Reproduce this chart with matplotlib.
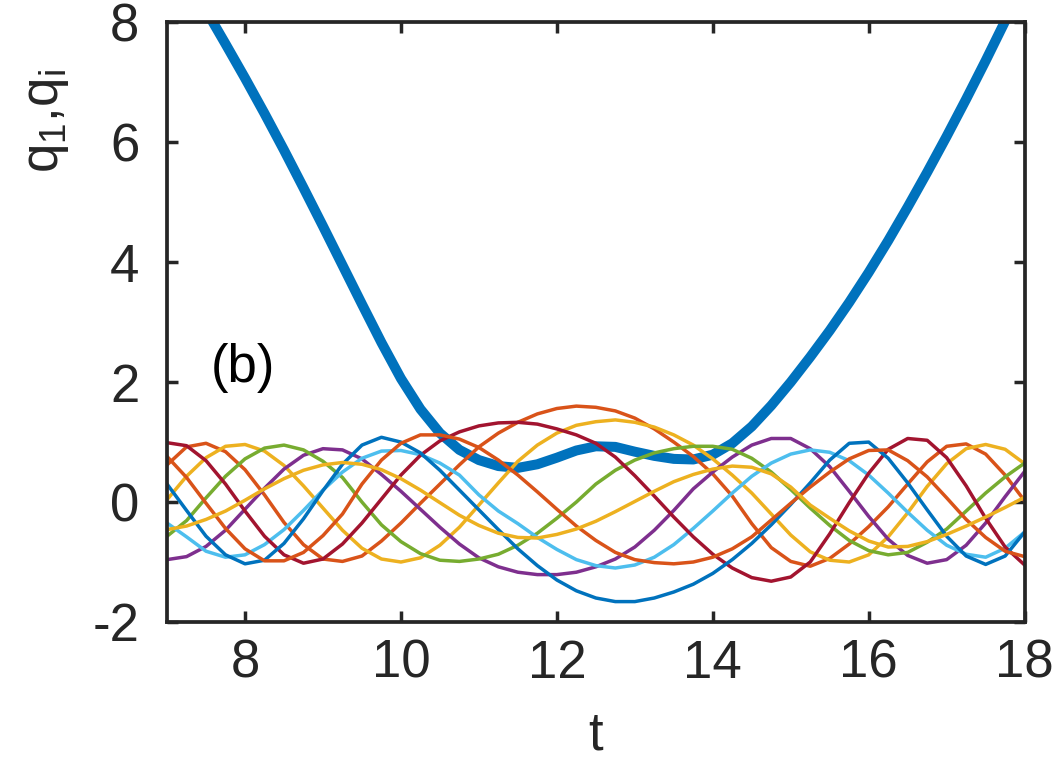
import numpy as np
import matplotlib
matplotlib.use('Agg')
import matplotlib.pyplot as plt

############################################################
# Data (t step 0.25 from 7 to 18)

t = np.arange(7.0, 18.001, 0.25)

q1 = [9.3, 8.75, 8.2, 7.64, 7.07, 6.48, 5.87, 5.24, 4.6, 3.95, 3.3, 2.66, 2.06, 1.55, 1.15,
      0.87, 0.7, 0.6, 0.57, 0.63, 0.74, 0.86, 0.93, 0.92, 0.84, 0.77, 0.72, 0.71, 0.79,
      0.98, 1.26, 1.61, 2.0, 2.42, 2.86, 3.33, 3.83, 4.36, 4.92, 5.5, 6.1, 6.72, 7.36,
      8.02, 8.7]

orange_a = [0.62, 0.92, 0.98, 0.84, 0.54, 0.12, -0.34, -0.71, -0.95, -0.99, -0.9, -0.65,
            -0.35, -0.02, 0.3, 0.62, 0.92, 1.15, 1.33, 1.47, 1.56, 1.6, 1.58, 1.52, 1.4,
            1.22, 1.0, 0.76, 0.47, 0.1, -0.36, -0.76, -0.99, -1.07, -0.94, -0.7, -0.41, -0.08,
            0.3, 0.67, 0.93, 0.97, 0.8, 0.45, 0.02]

yellow_a = [0.04, 0.43, 0.74, 0.93, 0.96, 0.85, 0.61, 0.27, -0.1, -0.47, -0.77, -0.95,
            -1.0, -0.93, -0.72, -0.42, -0.05, 0.32, 0.68, 0.95, 1.15, 1.28, 1.34, 1.37,
            1.33, 1.25, 1.12, 0.95, 0.72, 0.45, 0.15, -0.2, -0.55, -0.83, -0.97, -1.0,
            -0.88, -0.58, -0.18, 0.26, 0.64, 0.89, 0.96, 0.88, 0.64]

purple = [-0.96, -0.91, -0.74, -0.47, -0.12, 0.23, 0.55, 0.78, 0.89, 0.87, 0.72, 0.46,
          0.18, -0.12, -0.42, -0.7, -0.93, -1.08, -1.17, -1.21, -1.21, -1.17, -1.08, -0.95,
          -0.75, -0.47, -0.14, 0.22, 0.5, 0.75, 0.95, 1.06, 1.06, 0.89, 0.59, 0.18, -0.24,
          -0.62, -0.89, -1.02, -0.96, -0.72, -0.35, 0.09, 0.51]

green = [-0.57, -0.31, 0.07, 0.43, 0.72, 0.9, 0.95, 0.87, 0.68, 0.41, 0.0, -0.38, -0.66,
         -0.86, -0.97, -0.99, -0.95, -0.87, -0.72, -0.52, -0.27, 0.0, 0.3, 0.53, 0.7, 0.82,
         0.89, 0.93, 0.93, 0.88, 0.73, 0.5, 0.21, -0.1, -0.39, -0.64, -0.81, -0.88, -0.84,
         -0.67, -0.45, -0.15, 0.15, 0.42, 0.65]

light_blue = [-0.35, -0.58, -0.82, -0.92, -0.88, -0.71, -0.46, -0.14, 0.2, 0.5, 0.73, 0.85,
              0.86, 0.79, 0.65, 0.45, 0.12, -0.15, -0.36, -0.59, -0.79, -0.96, -1.06, -1.1,
              -1.05, -0.92, -0.71, -0.44, -0.15, 0.15, 0.43, 0.65, 0.8, 0.87, 0.83, 0.69,
              0.45, 0.15, -0.17, -0.47, -0.72, -0.87, -0.92, -0.77, -0.5]

red = [0.99, 0.94, 0.69, 0.30, -0.15, -0.57, -0.88, -1.02, -0.95, -0.70, -0.35, 0.05, 0.45,
       0.78, 1.02, 1.17, 1.27, 1.32, 1.33, 1.30, 1.22, 1.12, 0.98, 0.75, 0.44, 0.10, -0.25,
       -0.58, -0.87, -1.1, -1.26, -1.32, -1.25, -1.0, -0.53, -0.01, 0.48, 0.88, 1.06, 1.03,
       0.74, 0.27, -0.27, -0.75, -1.05]

blue = [0.3, -0.14, -0.57, -0.88, -1.03, -0.97, -0.69, -0.28, 0.19, 0.63, 0.95, 1.08, 1.0,
        0.82, 0.53, 0.2, -0.13, -0.46, -0.78, -1.06, -1.3, -1.48, -1.6, -1.66, -1.66, -1.6,
        -1.5, -1.37, -1.19, -0.96, -0.69, -0.38, -0.04, 0.32, 0.7, 0.98, 1.0, 0.73, 0.32,
        -0.13, -0.57, -0.9, -1.04, -0.9, -0.5]

orange_b = [0.76, 0.41, -0.02, -0.44, -0.78, -0.98, -0.98, -0.84, -0.56, -0.2, 0.3, 0.7,
            0.98, 1.12, 1.12, 1.05, 0.91, 0.7, 0.45, 0.17, -0.12, -0.4, -0.64, -0.84, -0.96,
            -1.01, -1.03, -1.0, -0.92, -0.78, -0.58, -0.3, -0.02, 0.25, 0.5, 0.72, 0.86,
            0.87, 0.69, 0.42, 0.07, -0.29, -0.59, -0.82, -0.91]

yellow_b = [-0.46, -0.4, -0.29, -0.15, 0.03, 0.22, 0.39, 0.53, 0.62, 0.66, 0.63, 0.54, 0.39,
            0.2, -0.01, -0.22, -0.39, -0.52, -0.59, -0.6, -0.54, -0.45, -0.32, -0.16, 0.01,
            0.18, 0.34, 0.46, 0.55, 0.6, 0.58, 0.47, 0.25, -0.05, -0.27, -0.48, -0.65, -0.75,
            -0.74, -0.66, -0.54, -0.4, -0.25, -0.09, 0.08]

qi = [orange_a, yellow_a, purple, green, light_blue, red, blue, orange_b, yellow_b]
qi_colors = ['#D95319', '#EDB120', '#7E2F8E', '#77AC30', '#4DBEEE', '#A2142F',
             '#0072BD', '#D95319', '#EDB120']

############################################################
# Plotting

plt.rcParams['font.family'] = ['Liberation Sans', 'DejaVu Sans']
plt.rcParams['axes.unicode_minus'] = False
fs = 38
dark = '#262626'

fig = plt.figure(figsize=(10.64, 7.6), dpi=100)
ax = fig.add_axes([0.157, 0.1816, 0.806, 0.789])

ax.plot(t, q1, color='#0072BD', lw=7.2, solid_joinstyle='round', solid_capstyle='round')
for q, c in zip(qi, qi_colors):
    ax.plot(t, q, color=c, lw=2.5, solid_joinstyle='round')

ax.set_xlim(7, 18)
ax.set_ylim(-2, 8)
ax.set_xticks([8, 10, 12, 14, 16, 18])
ax.set_yticks([-2, 0, 2, 4, 6, 8])

ax.tick_params(direction='in', length=8, width=2.5, colors=dark, labelsize=fs,
               top=True, right=True)
ax.tick_params(axis='x', pad=12)
ax.tick_params(axis='y', pad=20)
for s in ax.spines.values():
    s.set_linewidth(2.7)
    s.set_color(dark)

ax.set_xlabel('t', fontsize=fs, color=dark)
ax.xaxis.set_label_coords(0.5, -0.148)
ax.set_ylabel(r'$\mathregular{q_1}$,$\mathregular{q_i}$', fontsize=fs, color=dark)
ax.yaxis.set_label_coords(-0.112, 0.835)
ax.text(7.97, 2.23, '(b)', fontsize=fs, color='black', ha='center', va='center')

fig.savefig('out.png', dpi=100)
